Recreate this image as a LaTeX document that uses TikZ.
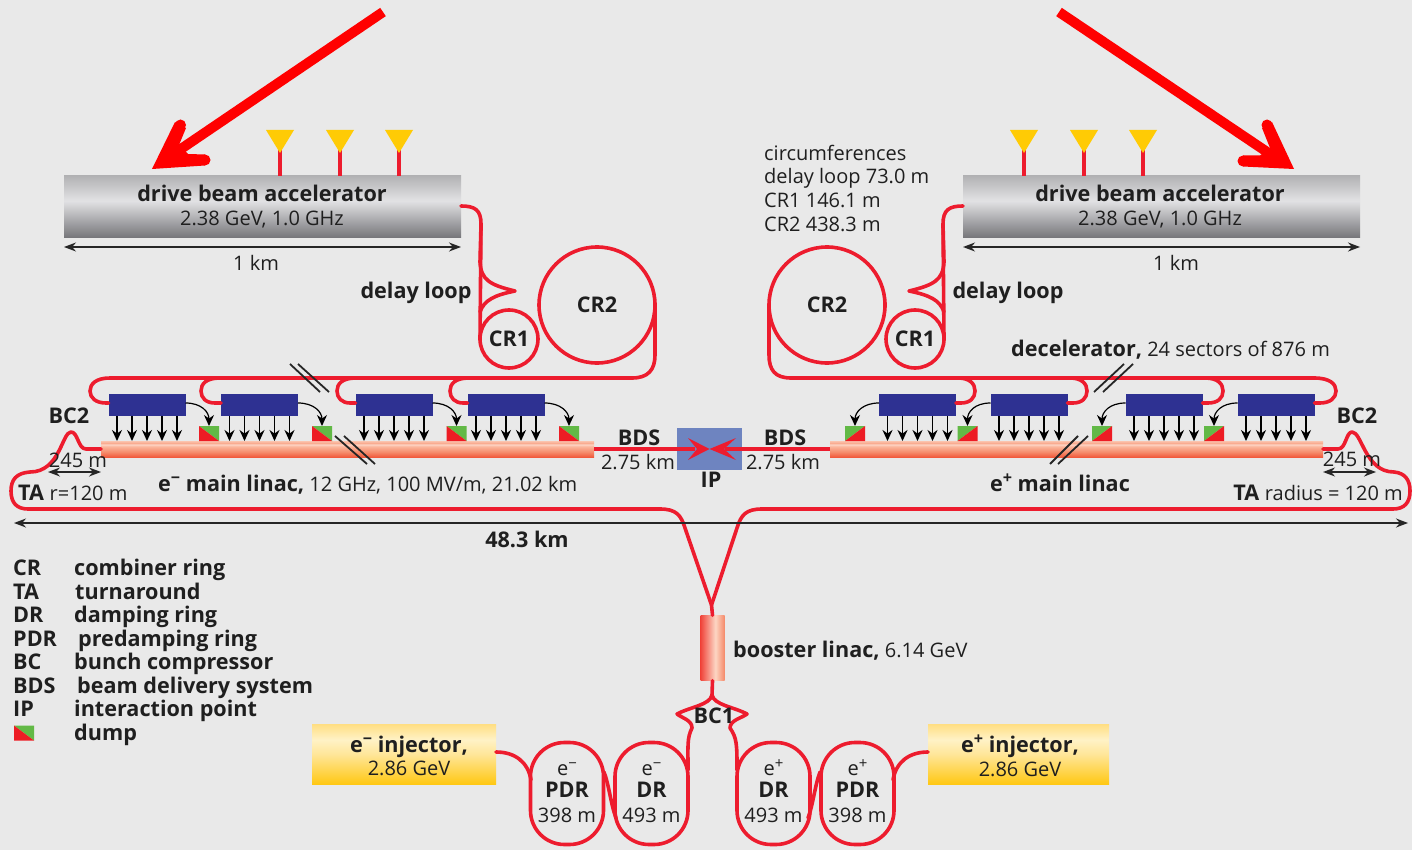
\documentclass[tikz,border=0pt]{standalone}
\usepackage{fontspec}
\setmainfont{Open Sans}
\usetikzlibrary{arrows.meta,calc}
\definecolor{bg}{HTML}{E9E9E9}
\definecolor{beamred}{HTML}{ED1C2E}
\definecolor{blk}{HTML}{2E3192}
\definecolor{ipb}{HTML}{6E84C0}
\definecolor{antenna}{HTML}{FFCB05}
\definecolor{dgreen}{HTML}{62B946}
\definecolor{dred}{HTML}{ED1C24}
\definecolor{ca}{HTML}{F15A3C}\definecolor{cb}{HTML}{F58A6A}\definecolor{cc}{HTML}{FBB69C}\definecolor{cd}{HTML}{FDD6C6}\definecolor{ce}{HTML}{F9A98E}\definecolor{cf}{HTML}{FBC4AE}
\definecolor{ya}{HTML}{FFC814}\definecolor{yb}{HTML}{FFE69A}\definecolor{yc}{HTML}{FFF2C6}\definecolor{yd}{HTML}{FFDE82}
\definecolor{ba}{HTML}{F0443A}\definecolor{bb}{HTML}{FCD6C4}
\definecolor{ga}{HTML}{747478}\definecolor{gb}{HTML}{E2E2E4}\definecolor{gc}{HTML}{B2B2B4}
\pgfdeclareverticalshading{linacshade}{100bp}{color(0bp)=(ca);color(25bp)=(ca);color(40bp)=(cb);color(58bp)=(cc);color(64bp)=(cd);color(68bp)=(ce);color(75bp)=(cf);color(100bp)=(cf)}
\pgfdeclareverticalshading{accshade}{100bp}{color(0bp)=(ga);color(25bp)=(ga);color(55bp)=(gb);color(75bp)=(gc);color(100bp)=(gc)}
\pgfdeclareverticalshading{injshade}{100bp}{color(0bp)=(ya);color(25bp)=(ya);color(50bp)=(yb);color(62bp)=(yc);color(75bp)=(yd);color(100bp)=(yd)}
\pgfdeclarehorizontalshading{boostshade}{100bp}{color(0bp)=(ba);color(25bp)=(ba);color(56bp)=(bb);color(75bp)=(cb);color(100bp)=(cb)}
\newcommand{\bl}{\fontsize{21.6}{24}\selectfont\bfseries}
\newcommand{\rg}{\fontsize{20}{24}\selectfont\mdseries}
\newcommand{\supm}{\raisebox{.38em}{\scalebox{.75}{−}}}
\newcommand{\supp}{\raisebox{.38em}{\scalebox{.75}{+}}}
\tikzset{
  x=1pt,y=-1pt,
  beam/.style={draw=beamred,line width=3.6pt,line cap=round,line join=round},
  txt/.style={inner sep=0pt,text=black!88,text height=20.5pt,text depth=5pt},
  blab/.style={txt,font=\bl},
  rlab/.style={txt,font=\rg},
  ring/.style={beam,circle,inner sep=0pt,outer sep=0pt},
  dring/.style={beam,rounded corners=34pt,minimum width=73pt,minimum height=102pt,inner sep=0pt,outer sep=0pt},
  blockbox/.style={fill=blk,minimum width=77pt,minimum height=22pt,inner sep=0pt,outer sep=0pt},
  linacbox/.style={shading=linacshade,minimum width=493pt,minimum height=16pt,inner sep=0pt,outer sep=0pt},
  accbox/.style={shading=accshade,minimum width=397pt,minimum height=62pt,inner sep=0pt,outer sep=0pt},
  injbox/.style={shading=injshade,minimum height=60pt,inner sep=0pt,outer sep=0pt},
  dumpl/.style={minimum width=20pt,minimum height=15pt,inner sep=0pt,outer sep=0pt,path picture={
    \fill[dgreen] (path picture bounding box.north west)--(path picture bounding box.north east)--(path picture bounding box.south east)--cycle;
    \fill[dred] (path picture bounding box.north west)--(path picture bounding box.south west)--(path picture bounding box.south east)--cycle;}},
  dumpr/.style={minimum width=20pt,minimum height=15pt,inner sep=0pt,outer sep=0pt,path picture={
    \fill[dgreen] (path picture bounding box.north east)--(path picture bounding box.north west)--(path picture bounding box.south west)--cycle;
    \fill[dred] (path picture bounding box.north east)--(path picture bounding box.south east)--(path picture bounding box.south west)--cycle;}},
  kick/.style={black,line width=1.6pt,-{Stealth[length=11pt,width=10pt]}},
  curl/.style={black,line width=1.2pt,-{Stealth[length=11pt,width=10pt]}},
  dim/.style={black!85,line width=1.5pt,{Stealth[length=12pt,width=9pt]}-{Stealth[length=12pt,width=9pt]}},
  slash/.style={black!85,line width=1.8pt},
  bigarrow/.style={red,line width=10pt},
}
\begin{document}
\begin{tikzpicture}
\useasboundingbox (0,0) rectangle (1412,850);
\fill[bg] (0,0) rectangle (1412,850);

% ---------- accelerators
\node[accbox] (accL) at (262.5,207) {};
\node[accbox] (accR) at (1161.5,207) {};
\foreach \n/\xx in {a/280,b/340,c/399,d/1024,e/1084,f/1143}{
  \coordinate (ant\n) at (\xx,150);
}
\foreach \n in {a,b,c} \draw[beamred,line width=3.6pt] (ant\n) -- (ant\n|-accL.north);
\foreach \n in {d,e,f} \draw[beamred,line width=3.6pt] (ant\n) -- (ant\n|-accR.north);
\foreach \n/\xx in {a/280,b/340,c/399,d/1024,e/1084,f/1143}{
  \fill[antenna] (\xx-14,130)--(\xx+14,130)--(\xx,153)--cycle;
}
\node[blab] at (262,194) {drive beam accelerator};
\node[rlab] at (262,218) {2.38 GeV, 1.0 GHz};
\node[blab] at (1160,194) {drive beam accelerator};
\node[rlab] at (1160,218) {2.38 GeV, 1.0 GHz};
\draw[dim] (accL.south west|-0,247) -- (accL.south east|-0,247);
\draw[dim] (accR.south west|-0,247) -- (accR.south east|-0,247);
\node[rlab] at (256,263) {1 km};
\node[rlab] at (1176,263) {1 km};

% ---------- rings
\node[ring,minimum size=58pt] (cr1L) at (509,339) {};
\node[ring,minimum size=116pt] (cr2L) at (597,305) {};
\node[ring,minimum size=58pt] (cr1R) at (915,339) {};
\node[ring,minimum size=116pt] (cr2R) at (827,305) {};
\node[blab] at (cr1L) {CR1};
\node[blab] at (cr2L) {CR2};
\node[blab] at (cr1R) {CR1};
\node[blab] at (cr2R) {CR2};

% ---------- blocks, linacs
\foreach \n/\xx in {1/147,2/259.5,3/394,4/506,5/917.5,6/1029,7/1164,8/1276}
  \node[blockbox] (blk\n) at (\xx,405) {};
\node[linacbox] (linL) at (347.5,449) {};
\node[linacbox] (linR) at (1076.5,449) {};
\foreach \n/\xx in {1/209,2/322,3/456.5,4/569}
  \node[dumpl] (dmp\n) at (\xx,433.5) {};
\foreach \n/\xx in {5/855,6/967.5,7/1102,8/1214}
  \node[dumpr] (dmp\n) at (\xx,433.5) {};
\foreach \n in {1,...,8}
  \foreach \d in {-30,-15,0,15,30}
    \draw[kick] ([xshift=\d pt]blk\n.south) -- ++(0,25);
\foreach \n in {1,...,4}
  \draw[curl] ([yshift=2pt]blk\n.east) .. controls +(16,0) and +(0,-14) .. (dmp\n.north);
\foreach \n in {5,...,8}
  \draw[curl] ([yshift=2pt]blk\n.west) .. controls +(-16,0) and +(0,-14) .. (dmp\n.north);

% ---------- drive beam left
\draw[beam] ([yshift=1pt]accL.east) .. controls (475,206) and (481,210) .. (481,224) -- (480,262)
  .. controls (481,280) and (490,285) .. (515,291) .. controls (495,295) and (484,300) .. (480,312) ;
\draw[beam] (481,224) -- (480,340);
\draw[beam] (cr2L.east) -- (655,355) .. controls (655,370) and (648,378) .. (632,378) -- (110,378)
  .. controls (96,378) and (90,384) .. (90,391) .. controls (90,398) and (96,403) .. (106,403) -- ([yshift=2pt]blk1.west);
\draw[beam] (220,378) .. controls (206,378) and (201,384) .. (201,391) .. controls (201,398) and (206,403) .. (215,403) -- ([yshift=2pt]blk2.west);
\draw[beam] (356,378) .. controls (342,378) and (337,384) .. (337,391) .. controls (337,398) and (342,403) .. (350,403) -- ([yshift=2pt]blk3.west);
\draw[beam] (469,378) .. controls (455,378) and (450,384) .. (450,391) .. controls (450,398) and (455,403) .. (463,403) -- ([yshift=2pt]blk4.west);

% ---------- drive beam right
\draw[beam] ([yshift=1pt]accR.west) .. controls (949,206) and (943,210) .. (943,224) -- (944,262)
  .. controls (943,280) and (934,285) .. (909,291) .. controls (929,295) and (940,300) .. (944,312);
\draw[beam] (943,224) -- (944,340);
\draw[beam] (cr2R.west) -- (769,355) .. controls (769,370) and (775,378) .. (791,378) -- (1314,378)
  .. controls (1330,378) and (1336,384) .. (1336,391) .. controls (1336,398) and (1330,403) .. (1320,403) -- ([yshift=2pt]blk8.east);
\draw[beam] (1205,378) .. controls (1218,378) and (1223,384) .. (1223,391) .. controls (1223,398) and (1218,403) .. (1208,403) -- ([yshift=2pt]blk7.east);
\draw[beam] (1070,378) .. controls (1082,378) and (1087,384) .. (1087,391) .. controls (1087,398) and (1082,403) .. (1073,403) -- ([yshift=2pt]blk6.east);
\draw[beam] (958,378) .. controls (970,378) and (975,384) .. (975,391) .. controls (975,398) and (970,403) .. (961,403) -- ([yshift=2pt]blk5.east);

% ---------- IP, BDS
\node[fill=ipb,minimum width=65pt,minimum height=42pt,inner sep=0pt] (ip) at (709.5,449) {};
\draw[beamred,line width=3.6pt] (linL.east) -- (695,449);
\draw[beamred,line width=3.6pt] (linR.west) -- (725,449);
\coordinate (ipc) at (ip.center);
\fill[beamred] (ipc) -- (688,438) -- (697,449) -- (688,460) -- cycle;
\fill[beamred] (ipc) -- (736,438) -- (724,449) -- (736,460) -- cycle;
\node[blab] at (639,438) {BDS};
\node[rlab] at (638,462) {2.75 km};
\node[blab] at (785,438) {BDS};
\node[rlab] at (783,462) {2.75 km};
\node[blab] at (711,480) {IP};

% ---------- turnarounds and long transfer
\coordinate (merge) at (711.5,605);
\draw[beam] (linL.west) -- (86,449) .. controls (78,449) and (78,432) .. (71,432)
  .. controls (62,432) and (60,472) .. (30,472) .. controls (16,473) and (11,480) .. (11,491)
  .. controls (11,503) and (17,509) .. (28,509) -- (660,509) .. controls (676,509) and (681,515) .. (685,528) -- (merge);
\draw[beam] (linR.east) -- (1338,449) .. controls (1346,449) and (1346,432) .. (1352,432)
  .. controls (1362,432) and (1365,472) .. (1394,472) .. controls (1405,473) and (1410,480) .. (1410,491)
  .. controls (1410,503) and (1404,509) .. (1393,509) -- (762,509) .. controls (746,509) and (741,515) .. (737,528) -- (merge);
\draw[slash] (290,364) -- (320,392);
\draw[slash] (298,364) -- (329,392);
\draw[slash] (335,436) -- (367,464);
\draw[slash] (344,436) -- (375,464);
\draw[slash] (1094,392) -- (1124,364);
\draw[slash] (1103,392) -- (1133,364);
\draw[slash] (1050,464) -- (1078,436);
\draw[slash] (1058,464) -- (1088,436);
\draw[dim] (14,523) -- (1408,523);
\node[blab] at (527,540) {48.3 km};
\node[blab] at (69,416) {BC2};
\node[blab] at (1357,416) {BC2};
\node[rlab] at (78,460) {245 m};
\node[rlab] at (1352,459) {245 m};
\draw[dim] (48,472) -- (linL.south west|-0,472);
\draw[dim] (linR.south east|-0,472) -- (1376,472);
\node[txt,anchor=west] at (18,493) {\bl TA \rg r=120 m};
\node[txt,anchor=east] at (1403,493) {\bl TA \rg radius = 120 m};
\node[txt,anchor=west] at (158,484) {\bl e\supm{} main linac,\rg{} 12 GHz, 100 MV/m, 21.02 km};
\node[blab] at (1060,484) {e\supp{} main linac};

% ---------- booster and damping rings
\node[shading=boostshade,minimum width=24pt,minimum height=65pt,inner sep=0pt] (boost) at (712.5,648) {};
\draw[beam] (merge) -- (boost.north);
\node[dring] (pdrL) at (567,793.5) {};
\node[dring] (drL) at (651.5,793.5) {};
\node[dring] (drR) at (773.5,793.5) {};
\node[dring] (pdrR) at (857.5,793.5) {};
\foreach \r/\s/\n in {pdrL/\supm/PDR,drL/\supm/DR,drR/\supp/DR,pdrR/\supp/PDR}{
  \node[rlab] at ([yshift=25.5pt]\r.center) {e\s};
  \node[blab] at ([yshift=3.5pt]\r.center) {\n};
}
\node[rlab] at ([yshift=-21.5pt]pdrL.center) {398 m};
\node[rlab] at ([yshift=-21.5pt]drL.center) {493 m};
\node[rlab] at ([yshift=-21.5pt]drR.center) {493 m};
\node[rlab] at ([yshift=-21.5pt]pdrR.center) {398 m};
\node[injbox,minimum width=184pt] (injL) at (404,754) {};
\node[injbox,minimum width=181pt] (injR) at (1018.5,754) {};
\node[blab] at (409,745) {e\supm{} injector,};
\node[rlab] at (409,768) {2.86 GeV};
\node[blab] at (1020,745) {e\supp{} injector,};
\node[rlab] at (1020,769) {2.86 GeV};
\draw[beam] (injL.east|-0,752) .. controls (515,752) and (528,762) .. (531,780);
\draw[beam] (injR.west|-0,752) .. controls (909,752) and (896,762) .. (893,780);
\draw[beam] (604,772) .. controls (609,785) and (611,805) .. (616,818);
\draw[beam] (820,772) .. controls (815,785) and (813,805) .. (808,818);
\coordinate (bcTop) at (712,695);
\draw[beam] (boost.south) -- (bcTop);
\draw[beam] (bcTop) .. controls (710,705) and (690,707) .. (677,714)
  .. controls (682,718) and (692,720) .. (692,728) .. controls (687,738) and (688,745) .. (688,770);
\draw[beam] (bcTop) .. controls (714,705) and (734,707) .. (747,714)
  .. controls (742,718) and (730,720) .. (730,728) .. controls (737,738) and (737,745) .. (737,770);
\node[blab] at (714,716) {BC1};
\node[txt,anchor=west] at (733,650) {\bl booster linac,\rg{} 6.14 GeV};

% ---------- upper texts
\node[blab] at (416,291) {delay loop};
\node[blab] at (1008,291) {delay loop};
\node[rlab,anchor=west] at (764,153) {circumferences};
\node[rlab,anchor=west] at (764,176) {delay loop 73.0 m};
\node[rlab,anchor=west] at (764,200) {CR1 146.1 m};
\node[rlab,anchor=west] at (764,224) {CR2 438.3 m};
\node[txt,anchor=west] at (1011,349) {\bl decelerator,\rg{} 24 sectors of 876 m};

% ---------- legend
\foreach \yy/\a/\xt/\b in {568/CR/74/combiner ring,592/TA/75/turnaround,615/DR/74/damping ring,639/PDR/78/predamping ring,662/BC/74/bunch compressor,686/BDS/77/beam delivery system,709/IP/74/interaction point}{
  \node[blab,anchor=west] at (13,\yy) {\a};
  \node[blab,anchor=west] at (\xt,\yy) {\b};
}
\node[dumpl] (dmpkey) at (24,733) {};
\node[blab,anchor=west] at (74,733) {dump};

% ---------- big red arrows
\draw[bigarrow] (383,12) -- (172,155);
\fill[red] (152,169) -- (175,122) -- (186,128) -- (179,145) -- (188,154) -- (205,154.5) -- (205,165.5) -- cycle;
\fill[red] (180.5,125) circle (5.5pt) (205,160) circle (5.5pt);
\draw[bigarrow] (1059,12) -- (1276,158);
\fill[red] (1294,169) -- (1272,122) -- (1262,128) -- (1270,148) -- (1260,155.5) -- (1243,155.5) -- (1243,166.5) -- cycle;
\fill[red] (1267,125) circle (5.5pt) (1243,161) circle (5.5pt);
\end{tikzpicture}
\end{document}
